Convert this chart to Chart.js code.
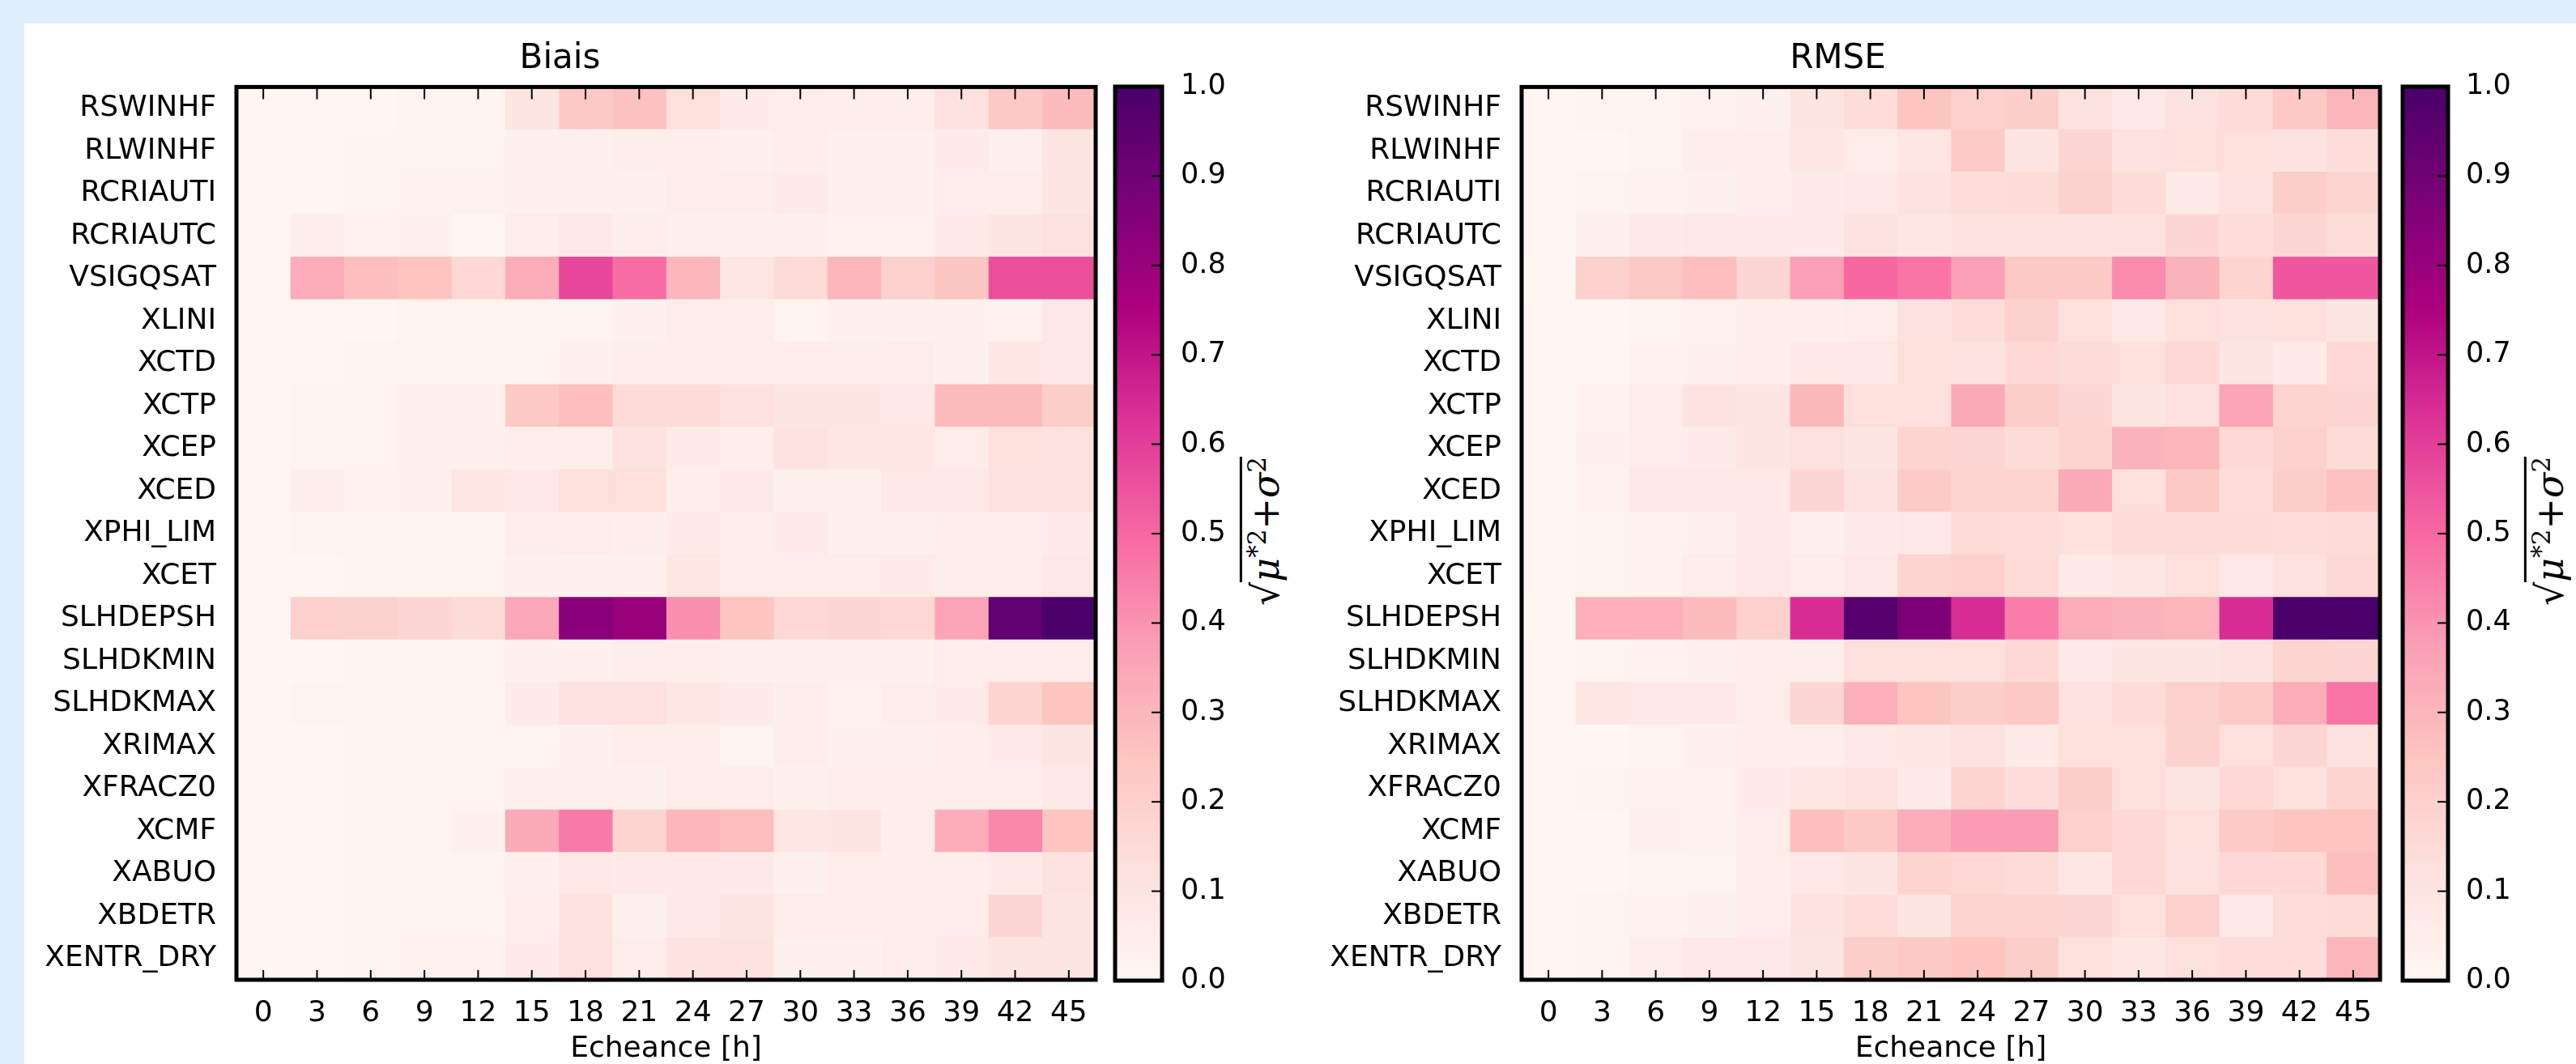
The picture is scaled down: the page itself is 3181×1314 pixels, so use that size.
<!DOCTYPE html>
<html>
<head>
<meta charset="utf-8">
<script src="https://cdn.jsdelivr.net/npm/chart.js@4.4.1/dist/chart.umd.min.js"></script>
<style>
  html, body { margin: 0; padding: 0; }
  body { width: 3181px; height: 1314px; background: #dfeefd; position: relative; overflow: hidden; font-family: "DejaVu Sans", sans-serif; }
  #panel { position: absolute; left: 30px; top: 29px; right: 0; bottom: 0; background: #fff; }
  .box { position: absolute; }
  .cblabel { position: absolute; font-family: "DejaVu Serif", serif; font-size: 46px; white-space: nowrap; color: #000;
             transform: translate(-50%, -50%) rotate(-90deg); }
  .cblabel .ov { border-top: 3px solid #000; padding-top: 2px; }
  .cblabel sup { font-size: 31px; font-style: normal; }
</style>
</head>
<body>
<div id="panel"></div>

<div class="box" style="left:30px;top:29px;width:1340px;height:1285px"><canvas id="heatBiais"></canvas></div>
<div class="box" style="left:1370px;top:29px;width:160px;height:1285px"><canvas id="cbarBiais"></canvas></div>
<div class="cblabel" style="left:1562px;top:656px">√<span class="ov"><i>μ</i><sup>*2</sup>+<i>σ</i><sup>2</sup></span></div>

<div class="box" style="left:1600px;top:29px;width:1360px;height:1285px"><canvas id="heatRmse"></canvas></div>
<div class="box" style="left:2960px;top:29px;width:221px;height:1285px"><canvas id="cbarRmse"></canvas></div>
<div class="cblabel" style="left:3148px;top:656px">√<span class="ov"><i>μ</i><sup>*2</sup>+<i>σ</i><sup>2</sup></span></div>

<script>
// échéances (colonnes)
const hours = [0, 3, 6, 9, 12, 15, 18, 21, 24, 27, 30, 33, 36, 39, 42, 45];

// paramètres (lignes)
const params = ['RSWINHF', 'RLWINHF', 'RCRIAUTI', 'RCRIAUTC', 'VSIGQSAT', 'XLINI', 'XCTD', 'XCTP', 'XCEP', 'XCED',
  'XPHI_LIM', 'XCET', 'SLHDEPSH', 'SLHDKMIN', 'SLHDKMAX', 'XRIMAX', 'XFRACZ0', 'XCMF', 'XABUO', 'XBDETR', 'XENTR_DRY'];

// Biais : une ligne par paramètre, une valeur par échéance
const biais = [
  [0.01, 0.01, 0.01, 0.02, 0.02, 0.10, 0.23, 0.26, 0.13, 0.07, 0.06, 0.05, 0.05, 0.12, 0.23, 0.28],
  [0.01, 0.01, 0.015, 0.02, 0.02, 0.04, 0.04, 0.05, 0.05, 0.04, 0.05, 0.04, 0.04, 0.07, 0.04, 0.10],
  [0.01, 0.01, 0.02, 0.03, 0.03, 0.04, 0.04, 0.04, 0.05, 0.05, 0.07, 0.04, 0.04, 0.06, 0.05, 0.10],
  [0.01, 0.05, 0.03, 0.04, 0.01, 0.06, 0.08, 0.05, 0.04, 0.04, 0.04, 0.03, 0.03, 0.07, 0.10, 0.12],
  [0.00, 0.33, 0.27, 0.25, 0.16, 0.33, 0.58, 0.49, 0.30, 0.09, 0.15, 0.30, 0.20, 0.24, 0.56, 0.56],
  [0.01, 0.01, 0.01, 0.02, 0.02, 0.02, 0.02, 0.04, 0.05, 0.05, 0.02, 0.04, 0.04, 0.04, 0.03, 0.08],
  [0.01, 0.01, 0.02, 0.02, 0.02, 0.02, 0.04, 0.05, 0.05, 0.05, 0.06, 0.05, 0.06, 0.04, 0.09, 0.08],
  [0.01, 0.02, 0.02, 0.04, 0.04, 0.23, 0.27, 0.15, 0.15, 0.12, 0.10, 0.10, 0.08, 0.28, 0.28, 0.21],
  [0.01, 0.02, 0.02, 0.04, 0.04, 0.05, 0.05, 0.11, 0.07, 0.05, 0.11, 0.09, 0.09, 0.06, 0.13, 0.12],
  [0.01, 0.05, 0.03, 0.04, 0.09, 0.08, 0.13, 0.13, 0.05, 0.07, 0.04, 0.04, 0.08, 0.08, 0.12, 0.12],
  [0.01, 0.02, 0.02, 0.02, 0.02, 0.05, 0.06, 0.05, 0.07, 0.05, 0.07, 0.04, 0.04, 0.05, 0.06, 0.07],
  [0.01, 0.01, 0.02, 0.02, 0.02, 0.04, 0.04, 0.04, 0.09, 0.06, 0.06, 0.06, 0.07, 0.05, 0.06, 0.08],
  [0.00, 0.20, 0.19, 0.17, 0.15, 0.35, 0.84, 0.80, 0.41, 0.25, 0.16, 0.17, 0.16, 0.36, 0.94, 1.00],
  [0.01, 0.01, 0.02, 0.02, 0.02, 0.04, 0.04, 0.05, 0.05, 0.04, 0.04, 0.04, 0.04, 0.06, 0.06, 0.06],
  [0.01, 0.02, 0.02, 0.02, 0.02, 0.07, 0.12, 0.12, 0.09, 0.07, 0.05, 0.03, 0.05, 0.07, 0.18, 0.25],
  [0.01, 0.01, 0.02, 0.02, 0.02, 0.02, 0.04, 0.05, 0.05, 0.02, 0.05, 0.04, 0.04, 0.05, 0.07, 0.10],
  [0.01, 0.01, 0.02, 0.02, 0.02, 0.04, 0.04, 0.04, 0.06, 0.06, 0.04, 0.05, 0.05, 0.05, 0.05, 0.08],
  [0.01, 0.01, 0.02, 0.02, 0.04, 0.34, 0.46, 0.18, 0.30, 0.27, 0.09, 0.10, 0.06, 0.33, 0.43, 0.25],
  [0.01, 0.01, 0.02, 0.02, 0.02, 0.04, 0.08, 0.07, 0.07, 0.07, 0.04, 0.06, 0.05, 0.05, 0.07, 0.11],
  [0.01, 0.01, 0.02, 0.02, 0.02, 0.05, 0.11, 0.04, 0.07, 0.10, 0.06, 0.06, 0.05, 0.06, 0.17, 0.10],
  [0.01, 0.01, 0.02, 0.03, 0.03, 0.07, 0.12, 0.06, 0.11, 0.11, 0.04, 0.04, 0.06, 0.07, 0.10, 0.10]
];

// RMSE
const rmse = [
  [0.01, 0.02, 0.02, 0.03, 0.04, 0.10, 0.14, 0.25, 0.20, 0.21, 0.11, 0.08, 0.11, 0.15, 0.23, 0.30],
  [0.01, 0.01, 0.02, 0.05, 0.05, 0.09, 0.06, 0.09, 0.22, 0.10, 0.17, 0.12, 0.13, 0.13, 0.11, 0.14],
  [0.01, 0.02, 0.03, 0.04, 0.06, 0.07, 0.08, 0.11, 0.14, 0.15, 0.19, 0.15, 0.07, 0.12, 0.21, 0.18],
  [0.01, 0.04, 0.07, 0.08, 0.07, 0.07, 0.11, 0.09, 0.11, 0.11, 0.11, 0.11, 0.17, 0.14, 0.17, 0.14],
  [0.00, 0.20, 0.23, 0.27, 0.17, 0.37, 0.50, 0.47, 0.37, 0.23, 0.23, 0.42, 0.31, 0.18, 0.54, 0.54],
  [0.01, 0.01, 0.02, 0.03, 0.05, 0.05, 0.06, 0.12, 0.14, 0.19, 0.13, 0.08, 0.13, 0.11, 0.13, 0.10],
  [0.01, 0.01, 0.03, 0.04, 0.05, 0.08, 0.08, 0.13, 0.11, 0.16, 0.15, 0.13, 0.16, 0.10, 0.07, 0.16],
  [0.01, 0.03, 0.06, 0.11, 0.10, 0.29, 0.13, 0.13, 0.34, 0.21, 0.17, 0.10, 0.12, 0.36, 0.18, 0.17],
  [0.01, 0.04, 0.06, 0.07, 0.10, 0.12, 0.10, 0.18, 0.17, 0.15, 0.18, 0.31, 0.30, 0.16, 0.20, 0.15],
  [0.01, 0.03, 0.08, 0.08, 0.08, 0.17, 0.11, 0.22, 0.18, 0.18, 0.34, 0.13, 0.23, 0.14, 0.21, 0.26],
  [0.01, 0.02, 0.03, 0.04, 0.08, 0.04, 0.07, 0.08, 0.15, 0.14, 0.13, 0.15, 0.15, 0.15, 0.14, 0.15],
  [0.01, 0.02, 0.03, 0.06, 0.08, 0.06, 0.08, 0.18, 0.20, 0.15, 0.07, 0.09, 0.13, 0.08, 0.12, 0.16],
  [0.00, 0.32, 0.32, 0.28, 0.20, 0.64, 0.97, 0.87, 0.64, 0.45, 0.33, 0.31, 0.30, 0.64, 1.00, 1.00],
  [0.01, 0.02, 0.03, 0.04, 0.05, 0.05, 0.13, 0.13, 0.13, 0.16, 0.07, 0.10, 0.10, 0.11, 0.18, 0.17],
  [0.01, 0.09, 0.08, 0.08, 0.06, 0.17, 0.32, 0.25, 0.21, 0.23, 0.12, 0.15, 0.20, 0.22, 0.33, 0.47],
  [0.01, 0.01, 0.02, 0.04, 0.05, 0.05, 0.08, 0.09, 0.12, 0.07, 0.13, 0.13, 0.19, 0.13, 0.17, 0.12],
  [0.01, 0.02, 0.03, 0.03, 0.07, 0.09, 0.11, 0.07, 0.18, 0.14, 0.21, 0.13, 0.10, 0.16, 0.13, 0.18],
  [0.01, 0.01, 0.04, 0.03, 0.06, 0.27, 0.23, 0.33, 0.38, 0.38, 0.20, 0.16, 0.13, 0.22, 0.25, 0.25],
  [0.01, 0.01, 0.02, 0.02, 0.06, 0.08, 0.10, 0.18, 0.16, 0.15, 0.09, 0.16, 0.12, 0.16, 0.16, 0.27],
  [0.01, 0.02, 0.03, 0.04, 0.06, 0.11, 0.14, 0.10, 0.18, 0.18, 0.17, 0.13, 0.20, 0.07, 0.14, 0.15],
  [0.01, 0.02, 0.05, 0.08, 0.08, 0.10, 0.21, 0.23, 0.25, 0.21, 0.13, 0.09, 0.13, 0.14, 0.14, 0.30]
];

// graduations de la barre de couleur
const cbarTicks = [0.0, 0.1, 0.2, 0.3, 0.4, 0.5, 0.6, 0.7, 0.8, 0.9, 1.0];

// palette RdPu (matplotlib / ColorBrewer)
const RDPU = ['#fff7f3', '#fde0dd', '#fcc5c0', '#fa9fb5', '#f768a1', '#dd3497', '#ae017e', '#7a0177', '#49006a'];

function hexToRgb(h) {
  return [parseInt(h.slice(1, 3), 16), parseInt(h.slice(3, 5), 16), parseInt(h.slice(5, 7), 16)];
}

function rdpu(v) {
  v = Math.max(0, Math.min(1, v));
  const t = v * (RDPU.length - 1);
  const i = Math.min(RDPU.length - 2, Math.floor(t));
  const f = t - i;
  const a = hexToRgb(RDPU[i]), b = hexToRgb(RDPU[i + 1]);
  const c = a.map((x, k) => Math.round(x + (b[k] - x) * f));
  return `rgb(${c[0]},${c[1]},${c[2]})`;
}

Chart.defaults.font.family = "'DejaVu Sans', sans-serif";
Chart.defaults.color = '#000';
Chart.defaults.animation = false;

// cadre noir + graduations intérieures (style matplotlib)
const framePlugin = {
  id: 'frame',
  afterDraw(chart, args, opts) {
    const { ctx, chartArea: a } = chart;
    ctx.save();
    ctx.strokeStyle = '#000';
    ctx.lineWidth = 2;
    if (opts.xTicks) {
      const xs = chart.scales.x;
      xs.ticks.forEach(t => {
        const px = xs.getPixelForValue(t.value);
        ctx.beginPath();
        ctx.moveTo(px, a.top); ctx.lineTo(px, a.top + 15);
        ctx.moveTo(px, a.bottom); ctx.lineTo(px, a.bottom - 12);
        ctx.stroke();
      });
    }
    if (opts.yTicks) {
      const ys = chart.scales.y;
      ys.ticks.forEach(t => {
        if (t.value <= 0 || t.value >= 1) return;
        const py = ys.getPixelForValue(t.value);
        ctx.beginPath();
        ctx.moveTo(a.right, py); ctx.lineTo(a.right - 13, py);
        ctx.stroke();
      });
    }
    ctx.lineWidth = 5;
    ctx.strokeRect(a.left, a.top, a.right - a.left, a.bottom - a.top);
    ctx.restore();
  }
};

function makeHeatmap(id, title, values, yWidth, rightPad) {
  const step = hours[1] - hours[0];
  const datasets = hours.map((h, c) => ({
    label: h + ' h',
    data: params.map(() => [h - step / 2, h + step / 2]),
    backgroundColor: values.map(row => rdpu(row[c])),
    borderWidth: 0,
    barPercentage: 1,
    categoryPercentage: 1,
    grouped: false
  }));

  return new Chart(document.getElementById(id), {
    type: 'bar',
    data: { labels: params, datasets: datasets },
    plugins: [framePlugin],
    options: {
      indexAxis: 'y',
      responsive: true,
      maintainAspectRatio: false,
      layout: { padding: { left: 0, right: rightPad, top: 0, bottom: 0 } },
      plugins: {
        legend: { display: false },
        tooltip: { enabled: false },
        title: {
          display: true,
          text: title,
          color: '#000',
          font: { size: 42, weight: 'normal' },
          padding: { top: 19, bottom: 9 }
        },
        frame: { xTicks: true }
      },
      scales: {
        x: {
          type: 'linear',
          min: hours[0] - step / 2,
          max: hours[hours.length - 1] + step / 2,
          afterBuildTicks: s => { s.ticks = hours.map(v => ({ value: v })); },
          afterFit: s => { s.height = 104; },
          grid: { display: false },
          border: { display: false },
          ticks: { font: { size: 36 }, color: '#000', padding: 12, autoSkip: false, maxRotation: 0 },
          title: {
            display: true,
            text: 'Echeance [h]',
            color: '#000',
            font: { size: 36, lineHeight: 1 },
            padding: { top: 0, bottom: 0 }
          }
        },
        y: {
          type: 'category',
          afterFit: s => { s.width = yWidth; },
          grid: { display: false },
          border: { display: false },
          ticks: { font: { size: 36 }, color: '#000', padding: 17, autoSkip: false }
        }
      }
    }
  });
}

function makeColorbar(id, axisWidth, labelPad) {
  return new Chart(document.getElementById(id), {
    type: 'bar',
    data: {
      labels: [''],
      datasets: [{
        data: [[0, 1]],
        borderWidth: 0,
        barPercentage: 1,
        categoryPercentage: 1,
        backgroundColor: ctx => {
          const a = ctx.chart.chartArea;
          if (!a) return RDPU[0];
          const g = ctx.chart.ctx.createLinearGradient(0, a.bottom, 0, a.top);
          RDPU.forEach((c, i) => g.addColorStop(i / (RDPU.length - 1), c));
          return g;
        }
      }]
    },
    plugins: [framePlugin],
    options: {
      responsive: true,
      maintainAspectRatio: false,
      layout: { padding: { left: 7, right: 0, top: 78, bottom: 103 } },
      plugins: {
        legend: { display: false },
        tooltip: { enabled: false },
        frame: { yTicks: true }
      },
      scales: {
        x: { display: false },
        y: {
          position: 'right',
          min: 0,
          max: 1,
          afterBuildTicks: s => { s.ticks = cbarTicks.map(v => ({ value: v })); },
          afterFit: s => { s.width = axisWidth; },
          grid: { display: false },
          border: { display: false },
          ticks: {
            font: { size: 35 },
            color: '#000',
            padding: labelPad,
            callback: v => Number(v).toFixed(1)
          }
        }
      }
    }
  });
}

makeHeatmap('heatBiais', 'Biais', biais, 262, 17);
makeColorbar('cbarBiais', 95, 15);
makeHeatmap('heatRmse', 'RMSE', rmse, 279, 21);
makeColorbar('cbarRmse', 158, 14);
</script>
</body>
</html>
